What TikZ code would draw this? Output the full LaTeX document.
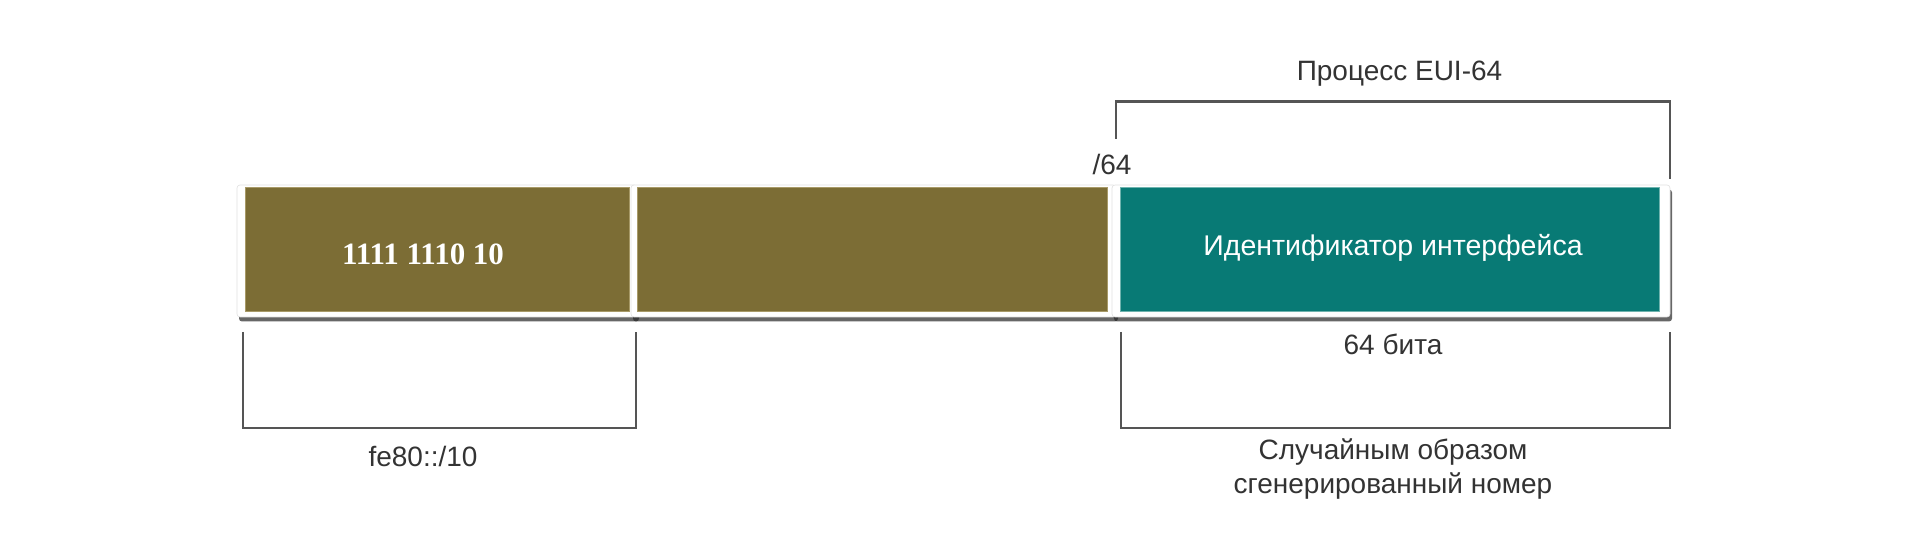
\documentclass[tikz,border=0pt]{standalone}
\usepackage{fontspec}
\setmainfont{Liberation Sans}
\newfontfamily\serifb{Liberation Serif}
\usetikzlibrary{shadows}
\definecolor{boxolive}{HTML}{7C6D35}
\definecolor{boxoliveedge}{HTML}{A89A68}
\definecolor{boxteal}{HTML}{087A75}
\definecolor{boxtealedge}{HTML}{6FB3AE}
\definecolor{labelgray}{HTML}{333333}
\definecolor{bracketgray}{HTML}{555555}
\tikzset{
  frame/.style={fill=white, draw=black!12, line width=0.6pt, rounded corners=3pt, inner sep=0pt, outer sep=0pt,
    minimum height=132pt,
    drop shadow={shadow xshift=2pt, shadow yshift=-4.5pt, fill=black!85, opacity=0.7, draw=none}},
  field/.style={inner sep=0pt, outer sep=0pt, minimum height=124pt, line width=1pt},
  olivefield/.style={field, fill=boxolive, draw=boxoliveedge},
  tealfield/.style={field, fill=boxteal, draw=boxtealedge},
  lbl/.style={inner sep=0pt, anchor=base, text=labelgray, font=\fontsize{28}{33}\selectfont},
  intext/.style={inner sep=0pt, anchor=base, text=white},
  bracket/.style={draw=bracketgray, line width=2.2pt, line join=miter}
}
\begin{document}
\begin{tikzpicture}[x=1pt,y=-1pt]
\useasboundingbox (0,0) rectangle (1920,534);
% white frames with shadows
\node[frame, minimum width=400pt] (f1) at (437,251) {};
\node[frame, minimum width=485pt] (f2) at (873.5,251) {};
\node[frame, minimum width=558pt] (f3) at (1391,251) {};
% coloured fields
\node[olivefield, minimum width=384pt] (b1) at (437,250) {};
\node[olivefield, minimum width=470pt] (b2) at (872.5,250) {};
\node[tealfield, minimum width=539pt] (b3) at (1389.5,250) {};
% texts in fields
\node[intext, font=\serifb\bfseries\fontsize{31}{36}\selectfont] (t1) at (423,264.5) {1111 1110 10};
\node[intext, font=\fontsize{28.5}{33}\selectfont] (t3) at (1393,256) {Идентификатор интерфейса};
% labels
\node[lbl] (eui) at (1399.5,81) {Процесс EUI-64};
\node[lbl] (p64) at (1112,175) {/64};
\node[lbl] (bits) at (1393,355) {64 бита};
\node[lbl] (rnd1) at (1393,460) {Случайным образом};
\node[lbl] (rnd2) at (1393,493) {сгенерированный номер};
\node[lbl] (fe80) at (423,466) {fe80::/10};
% bracket corners
\coordinate (ta) at (1116,139);
\coordinate (tb) at (1116,101.5);
\coordinate (tc) at (1670,101.5);
\coordinate (td) at (1670,179);
\coordinate (la) at (243,332);
\coordinate (lb) at (243,428);
\coordinate (lc) at (636,428);
\coordinate (ld) at (636,332);
\coordinate (ra) at (1121,332);
\coordinate (rb) at (1121,428);
\coordinate (rc) at (1670,428);
\coordinate (rd) at (1670,332);
\draw[bracket] (ta) -- (tb) -- (tc) -- (td);
\draw[bracket] (la) -- (lb) -- (lc) -- (ld);
\draw[bracket] (ra) -- (rb) -- (rc) -- (rd);
\end{tikzpicture}
\end{document}
